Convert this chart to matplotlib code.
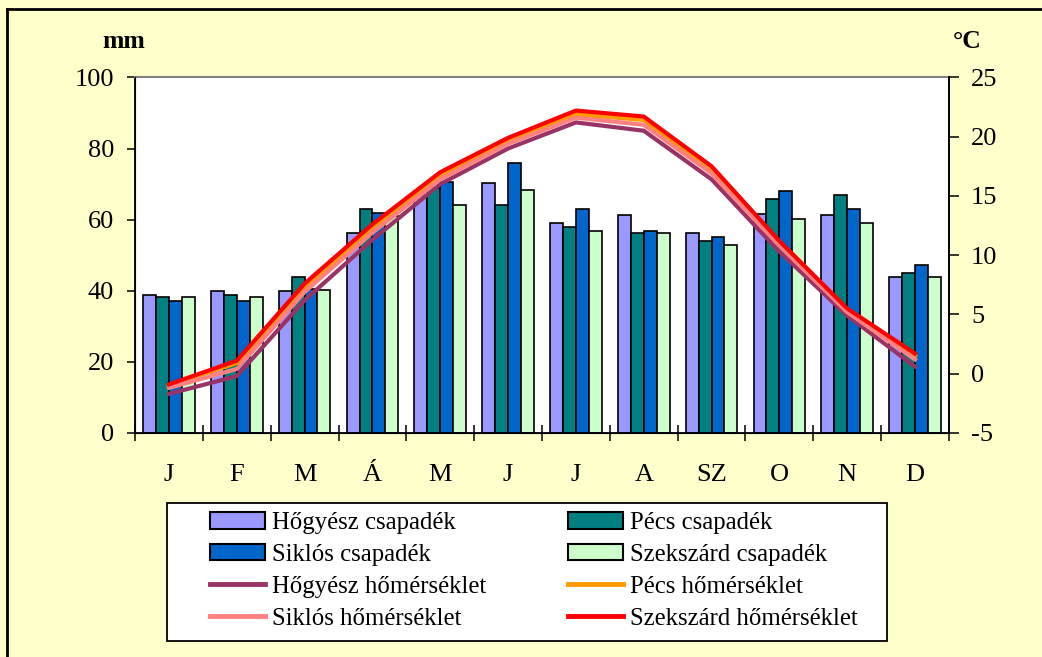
import matplotlib
matplotlib.use('Agg')
import matplotlib.pyplot as plt
import numpy as np
from matplotlib.patches import Patch, Rectangle
from matplotlib.lines import Line2D

plt.rcParams['font.family'] = ['Liberation Serif', 'DejaVu Serif']
plt.rcParams['axes.unicode_minus'] = False

# Months and monthly data:
months = ['J', 'F', 'M', 'Á', 'M', 'J', 'J', 'A', 'SZ', 'O', 'N', 'D']

# Precipitation (mm):
hogyesz_csap = [38.8, 39.9, 39.9, 56.2, 67.0, 70.3, 59.1, 61.3, 56.2, 61.5, 61.3, 43.8]
pecs_csap = [38.2, 38.9, 43.8, 63.0, 69.0, 64.1, 57.8, 56.2, 54.0, 65.8, 66.9, 44.9]
siklos_csap = [37.0, 37.0, 40.5, 62.0, 70.5, 76.0, 63.1, 56.8, 55.0, 68.0, 63.0, 47.1]
szekszard_csap = [38.2, 38.2, 40.1, 61.0, 64.1, 68.2, 56.8, 56.2, 52.8, 60.1, 59.1, 43.8]

# Temperature (°C):
hogyesz_hom = [-1.7, -0.2, 6.2, 11.3, 16.0, 19.0, 21.2, 20.5, 16.4, 10.3, 4.9, 0.6]
pecs_hom = [-1.0, 0.9, 7.3, 12.3, 16.7, 19.7, 21.9, 21.4, 17.2, 11.0, 5.3, 1.5]
siklos_hom = [-1.2, 0.4, 6.9, 11.9, 16.4, 19.4, 21.6, 21.0, 16.9, 10.8, 5.2, 1.2]
szekszard_hom = [-0.9, 1.1, 7.6, 12.6, 17.0, 19.9, 22.2, 21.7, 17.5, 11.2, 5.5, 1.7]

bgColor = '#FFFFCC'
barColors = ['#9999FF', '#008080', '#0066CC', '#CCFFCC']
lineColors = ['#993366', '#FF9900', '#FF8080', '#FF0000']

W, H = 1042, 657

# Set figure and axis:
fig = plt.figure(figsize=(10.42, 6.57), dpi=100, facecolor=bgColor)
ax = fig.add_axes([0.1296, 0.341, 0.7811, 0.5412])
ax.set_facecolor('white')

x = np.arange(len(months))
barWidth = 0.19
precip = [hogyesz_csap, pecs_csap, siklos_csap, szekszard_csap]
for k, (vals, col) in enumerate(zip(precip, barColors)):
    ax.bar(x + (k - 1.5) * barWidth, vals, width=barWidth, color=col,
           edgecolor='black', linewidth=1.2, zorder=2)

ax.set_xlim(-0.5, 11.5)
ax.set_ylim(0, 100)
ax.set_yticks([0, 20, 40, 60, 80, 100])
ax.set_xticks(x)
ax.set_xticklabels(months)
ax.set_xticks(np.arange(-0.5, 12, 1), minor=True)
ax.tick_params(axis='x', which='major', length=0, pad=22, labelsize=19)
ax.tick_params(axis='x', which='minor', direction='inout', length=11, width=1.1)
ax.tick_params(axis='y', direction='out', length=6, width=1.1, pad=9, labelsize=19)

for side in ['left', 'bottom', 'right']:
    ax.spines[side].set_linewidth(1.3)
ax.spines['top'].set_color('#808080')
ax.spines['top'].set_linewidth(1.5)

# Temperature axis:
ax2 = ax.twinx()
ax2.set_ylim(-5, 25)
ax2.set_yticks([-5, 0, 5, 10, 15, 20, 25])
ax2.tick_params(axis='y', direction='out', length=7, width=1.1, pad=9, labelsize=19)
temps = [hogyesz_hom, pecs_hom, siklos_hom, szekszard_hom]
for vals, col in zip(temps, lineColors):
    ax2.plot(x, vals, color=col, linewidth=3, zorder=3)
ax2.spines['top'].set_visible(False)
ax2.spines['right'].set_linewidth(1.3)

# Unit labels:
fig.text(124 / W, 1 - 42 / H, 'mm', ha='center', va='center', fontsize=18.5, fontweight='bold')
fig.text(967 / W, 1 - 42 / H, '°C', ha='center', va='center', fontsize=18.5, fontweight='bold')

# Outer frame (top and left edges):
fig.add_artist(Line2D([7 / W, 7 / W], [0, 1 - 9 / H], transform=fig.transFigure, color='black', linewidth=2))
fig.add_artist(Line2D([7 / W, 1], [1 - 9 / H, 1 - 9 / H], transform=fig.transFigure, color='black', linewidth=2))

# Legend box:
fig.add_artist(Rectangle((167 / W, 1 - 641 / H), 720 / W, 138 / H, transform=fig.transFigure,
                         facecolor='white', edgecolor='black', linewidth=1.3, zorder=1))

# Legend (column-wise order):
def barHandle(c):
    return Patch(facecolor=c, edgecolor='black', linewidth=1.5)

def lineHandle(c):
    return Line2D([0], [0], color=c, linewidth=3.5)

handles = [barHandle(barColors[0]), barHandle(barColors[2]), lineHandle(lineColors[0]), lineHandle(lineColors[2]),
           barHandle(barColors[1]), barHandle(barColors[3]), lineHandle(lineColors[1]), lineHandle(lineColors[3])]
labels = ['Hőgyész csapadék', 'Siklós csapadék', 'Hőgyész hőmérséklet', 'Siklós hőmérséklet',
          'Pécs csapadék', 'Szekszárd csapadék', 'Pécs hőmérséklet', 'Szekszárd hőmérséklet']
leg = fig.legend(handles, labels, ncol=2, loc='upper left',
                 bbox_to_anchor=(210 / W, 1 - 512 / H), fontsize=17.8,
                 frameon=False, handlelength=2.23, handleheight=0.65, handletextpad=0.28,
                 columnspacing=3.3, labelspacing=0.4, borderpad=0, borderaxespad=0)
leg.set_zorder(2)

plt.savefig('out.png', dpi=100, facecolor=bgColor)
plt.close()
